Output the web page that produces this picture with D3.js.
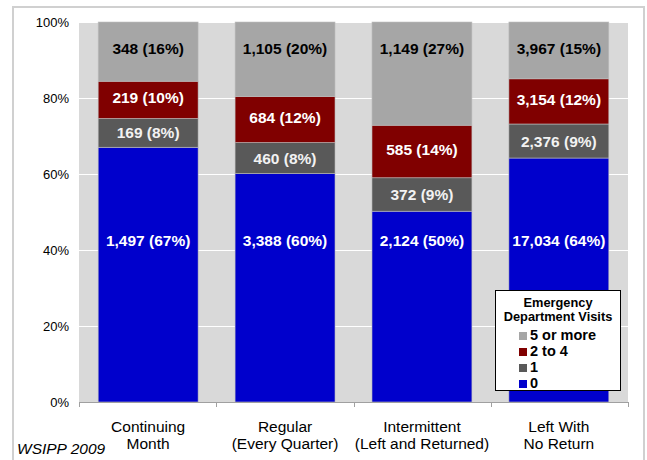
<!DOCTYPE html>
<html>
<head>
<meta charset="utf-8">
<script src="https://cdn.jsdelivr.net/npm/d3@7"></script>
<style>
  html, body { margin: 0; padding: 0; background: #fff; }
  svg { display: block; font-family: "Liberation Sans", Arial, sans-serif; }
</style>
</head>
<body>
<svg id="chart" width="647" height="460"></svg>
<script>
// Program groups (two-line labels)
const categories = ["Continuing Month", "Regular (Every Quarter)", "Intermittent (Left and Returned)", "Left With No Return"];
const categoryLines = [["Continuing", "Month"], ["Regular", "(Every Quarter)"], ["Intermittent", "(Left and Returned)"], ["Left With", "No Return"]];

// Emergency department visit counts per group, stacked bottom to top
const seriesNames = ["0", "1", "2 to 4", "5 or more"];
const visits0 = [1497, 3388, 2124, 17034];
const visits1 = [169, 460, 372, 2376];
const visits2to4 = [219, 684, 585, 3154];
const visits5plus = [348, 1105, 1149, 3967];

// Percent labels as printed
const pct0 = [67, 60, 50, 64];
const pct1 = [8, 8, 9, 9];
const pct2to4 = [10, 12, 14, 12];
const pct5plus = [16, 20, 27, 15];

const yTicks = [0, 0.2, 0.4, 0.6, 0.8, 1.0];
const seriesColors = ["#0000CC", "#595959", "#800000", "#A6A6A6"];
const labelColors = ["#ffffff", "#f2f2f2", "#ffffff", "#000000"];

const counts = [visits0, visits1, visits2to4, visits5plus];
const pcts = [pct0, pct1, pct2to4, pct5plus];

const rows = categories.map((c, i) => {
  const r = { category: c };
  const total = d3.sum(counts, s => s[i]);
  seriesNames.forEach((s, k) => { r[s] = counts[k][i] / total; });
  return r;
});
const stacked = d3.stack().keys(seriesNames)(rows);

const svg = d3.select("#chart");
const plot = { left: 79, right: 628, top: 22, bottom: 402 };

// outer frame
svg.append("rect").attr("x", 13).attr("y", 7).attr("width", 631).attr("height", 460)
  .attr("fill", "#fff").attr("stroke", "#d0d0d0").attr("stroke-width", 2);

const x = d3.scaleBand().domain(categories).range([plot.left, plot.right])
  .paddingInner(0.27).paddingOuter(0.14);
const y = d3.scaleLinear().domain([0, 1]).range([plot.bottom, plot.top]);

// plot background
svg.append("rect").attr("x", plot.left).attr("y", plot.top)
  .attr("width", plot.right - plot.left).attr("height", plot.bottom - plot.top)
  .attr("fill", "#D9D9D9");

// gridlines
svg.append("g").selectAll("line").data(yTicks.filter(t => t > 0)).join("line")
  .attr("x1", plot.left).attr("x2", plot.right)
  .attr("y1", d => Math.round(y(d)) + 0.5).attr("y2", d => Math.round(y(d)) + 0.5)
  .attr("stroke", "#ffffff").attr("stroke-width", 1);

// bars
const layers = svg.append("g").selectAll("g").data(stacked).join("g")
  .attr("fill", (d, i) => seriesColors[i]);
layers.selectAll("rect").data(d => d).join("rect")
  .attr("x", d => x(d.data.category))
  .attr("width", x.bandwidth())
  .attr("y", d => y(d[1]))
  .attr("height", d => y(d[0]) - y(d[1]))
  .attr("stroke", "#bfbfbf").attr("stroke-width", 0.6);

// value labels
const fmt = d3.format(",");
stacked.forEach((layer, k) => {
  svg.append("g").selectAll("text").data(layer).join("text")
    .attr("x", d => x(d.data.category) + x.bandwidth() / 2)
    .attr("y", d => {
      if (k === 3) return y(0.93);
      if (k === 0) return y(0.425);
      return (y(d[0]) + y(d[1])) / 2 - (k === 2 ? 2 : 0);
    })
    .attr("dy", "0.36em")
    .attr("text-anchor", "middle")
    .attr("font-size", "15.5px").attr("font-weight", "bold")
    .attr("fill", labelColors[k])
    .text((d, i) => `${fmt(counts[k][i])} (${pcts[k][i]}%)`);
});

// y axis labels
const yAxis = svg.append("g").attr("transform", `translate(${plot.left},0)`)
  .call(d3.axisLeft(y).tickValues(yTicks).tickFormat(d3.format(".0%")).tickSize(0).tickPadding(10));
yAxis.select(".domain").remove();
yAxis.selectAll("text").attr("font-size", "13px").attr("fill", "#000")
  .attr("font-family", "'Liberation Sans', Arial, sans-serif");

// x axis line with boundary ticks
const xAxis = svg.append("g");
xAxis.append("line").attr("x1", plot.left).attr("x2", plot.right + 1)
  .attr("y1", plot.bottom + 0.5).attr("y2", plot.bottom + 0.5).attr("stroke", "#a0a0a0");
const step = x.step();
const boundaries = d3.range(categories.length + 1).map(i => plot.left + (plot.right - plot.left) * i / categories.length);
xAxis.selectAll(".tk").data(boundaries).join("line").attr("class", "tk")
  .attr("x1", d => Math.round(d) + 0.5).attr("x2", d => Math.round(d) + 0.5)
  .attr("y1", plot.bottom).attr("y2", plot.bottom + 5).attr("stroke", "#a0a0a0");

// category labels
const catG = svg.append("g").selectAll("text").data(categories).join("text")
  .attr("x", d => x(d) + x.bandwidth() / 2)
  .attr("y", 432)
  .attr("text-anchor", "middle")
  .attr("font-size", "15.5px").attr("fill", "#000");
catG.selectAll("tspan").data((d, i) => categoryLines[i]).join("tspan")
  .attr("x", function () { return d3.select(this.parentNode).attr("x"); })
  .attr("dy", (d, j) => j === 0 ? 0 : 16.5)
  .text(d => d);

// source note
svg.append("text").attr("x", 17).attr("y", 454)
  .attr("font-size", "15.5px").attr("font-style", "italic").attr("fill", "#000")
  .text("WSIPP 2009");

// legend
const lg = svg.append("g");
lg.append("rect").attr("x", 495.5).attr("y", 290.5).attr("width", 125).attr("height", 100)
  .attr("fill", "#fff").attr("stroke", "#000").attr("stroke-width", 1);
lg.append("text").attr("x", 558).attr("y", 306.5).attr("text-anchor", "middle")
  .attr("font-size", "12.8px").attr("font-weight", "bold").text("Emergency");
lg.append("text").attr("x", 558).attr("y", 320.5).attr("text-anchor", "middle")
  .attr("font-size", "12.8px").attr("font-weight", "bold").text("Department Visits");
const legendOrder = [3, 2, 1, 0];
const items = lg.selectAll(".item").data(legendOrder).join("g").attr("class", "item")
  .attr("transform", (d, i) => `translate(519, ${340 + i * 16})`);
items.append("rect").attr("x", 0).attr("y", -8).attr("width", 8).attr("height", 8)
  .attr("fill", d => seriesColors[d]);
items.append("text").attr("x", 11).attr("y", 0)
  .attr("font-size", "14.5px").attr("font-weight", "bold").text(d => seriesNames[d]);
</script>
</body>
</html>
